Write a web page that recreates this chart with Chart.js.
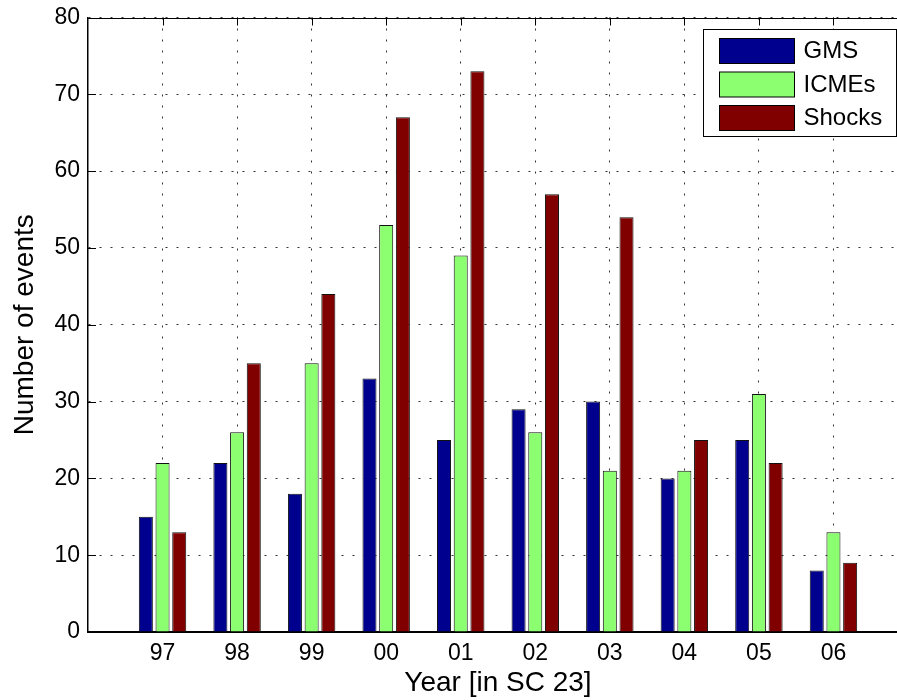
<!DOCTYPE html>
<html>
<head>
<meta charset="utf-8">
<title>Number of events per year</title>
<script src="https://cdn.jsdelivr.net/npm/chart.js@4.4.0/dist/chart.umd.min.js"></script>
<style>
  html, body { margin: 0; padding: 0; background: #fff; overflow: hidden; }
  #wrap { width: 910px; height: 700px; }
</style>
</head>
<body>
<div id="wrap"><canvas id="eventsChart" width="910" height="700"></canvas></div>
<script>
// Years of solar cycle 23
const years = ['97', '98', '99', '00', '01', '02', '03', '04', '05', '06'];
const gmsCounts = [15, 22, 18, 33, 25, 29, 30, 20, 25, 8];
const icmeCounts = [22, 26, 35, 53, 49, 26, 21, 21, 31, 13];
const shockCounts = [13, 35, 44, 67, 73, 57, 54, 25, 22, 9];
const yTicks = [0, 10, 20, 30, 40, 50, 60, 70, 80];

const FONT = '"Liberation Sans", Arial, Helvetica, sans-serif';

// bars sit on x = 1..10 of a 0..11 axis
function toPoints(values) {
  return values.map((v, i) => ({ x: i + 1, y: v }));
}

// inward tick marks, top frame line and the boxed legend
const axesFrame = {
  id: 'axesFrame',
  beforeDatasetsDraw(chart) {
    const { ctx, chartArea: a, scales: { x } } = chart;
    ctx.save();
    ctx.strokeStyle = '#000';
    ctx.lineWidth = 1;
    ctx.beginPath();
    x.ticks.forEach(t => {
      const px = Math.round(x.getPixelForValue(t.value)) + 0.5;
      ctx.moveTo(px, a.bottom);
      ctx.lineTo(px, a.bottom - 8);
    });
    ctx.stroke();
    ctx.restore();
  },
  afterDatasetsDraw(chart) {
    const { ctx, chartArea: a, scales: { x, y } } = chart;
    ctx.save();
    ctx.strokeStyle = '#000';
    ctx.lineWidth = 1;
    ctx.beginPath();
    const top = Math.round(a.top) + 0.5;
    ctx.moveTo(a.left, top);
    ctx.lineTo(a.right, top);
    x.ticks.forEach(t => {
      const px = Math.round(x.getPixelForValue(t.value)) + 0.5;
      ctx.moveTo(px, a.top);
      ctx.lineTo(px, a.top + 8);
    });
    y.ticks.forEach(t => {
      const py = Math.round(y.getPixelForValue(t.value)) + 0.5;
      ctx.moveTo(a.left, py);
      ctx.lineTo(a.left + 8, py);
    });
    ctx.stroke();

    // legend box
    const bx = Math.round(a.right - 205) + 0.5;
    const by = Math.round(a.top + 11) + 0.5;
    const bw = 193, bh = 107;
    ctx.fillStyle = '#fff';
    ctx.fillRect(bx, by, bw, bh);
    ctx.strokeRect(bx, by, bw, bh);
    ctx.font = '24px ' + FONT;
    ctx.textBaseline = 'middle';
    ctx.textAlign = 'left';
    chart.data.datasets.forEach((ds, i) => {
      const sy = by + 9 + i * 33.5;
      ctx.fillStyle = ds.backgroundColor;
      ctx.fillRect(bx + 16, sy, 75, 25);
      ctx.strokeStyle = '#000';
      ctx.strokeRect(bx + 16, sy, 75, 25);
      ctx.fillStyle = '#000';
      ctx.fillText(ds.label, bx + 100, sy + 13);
    });
    ctx.restore();
  }
};

const tickFont = { family: FONT, size: 23 };
const titleFont = { family: FONT, size: 28 };

const ctx = document.getElementById('eventsChart').getContext('2d');
new Chart(ctx, {
  type: 'bar',
  data: {
    datasets: [
      { label: 'GMS', data: toPoints(gmsCounts), backgroundColor: '#00008f' },
      { label: 'ICMEs', data: toPoints(icmeCounts), backgroundColor: '#8cff70' },
      { label: 'Shocks', data: toPoints(shockCounts), backgroundColor: '#800000' }
    ]
  },
  options: {
    responsive: false,
    animation: false,
    layout: { padding: { top: 17.5, right: 2, left: 0, bottom: 0 } },
    datasets: {
      bar: {
        categoryPercentage: 0.672,
        barPercentage: 0.84,
        borderWidth: 1,
        borderColor: '#111'
      }
    },
    scales: {
      x: {
        type: 'linear',
        min: 0,
        max: 11,
        offset: false,
        afterBuildTicks(scale) {
          scale.ticks = years.map((_, i) => ({ value: i + 1 }));
        },
        afterFit(scale) {
          scale.height = 68;
          scale.paddingLeft = 0;
          scale.paddingRight = 0;
        },
        ticks: {
          callback: v => years[v - 1],
          font: tickFont,
          color: '#000',
          padding: 8,
          autoSkip: false,
          maxRotation: 0
        },
        grid: { offset: false, drawTicks: false, color: '#333', lineWidth: 1 },
        border: { color: '#000', width: 2, dash: [2, 9] },
        title: {
          display: true,
          text: 'Year [in SC 23]',
          font: titleFont,
          color: '#000',
          padding: { top: 0, bottom: 0 }
        }
      },
      y: {
        min: 0,
        max: 80,
        afterBuildTicks(scale) {
          scale.ticks = yTicks.map(v => ({ value: v }));
        },
        afterFit(scale) {
          scale.width = 88;
          scale.paddingTop = 0;
          scale.paddingBottom = 0;
        },
        ticks: { font: tickFont, color: '#000', padding: 8 },
        grid: { drawTicks: false, color: '#333', lineWidth: 1 },
        border: { color: '#000', width: 1.5, dash: [2, 9] },
        title: {
          display: true,
          text: 'Number of events',
          font: titleFont,
          color: '#000',
          padding: { top: 8, bottom: 0 }
        }
      }
    },
    plugins: {
      legend: { display: false },
      tooltip: { enabled: false }
    }
  },
  plugins: [axesFrame]
});
</script>
</body>
</html>
